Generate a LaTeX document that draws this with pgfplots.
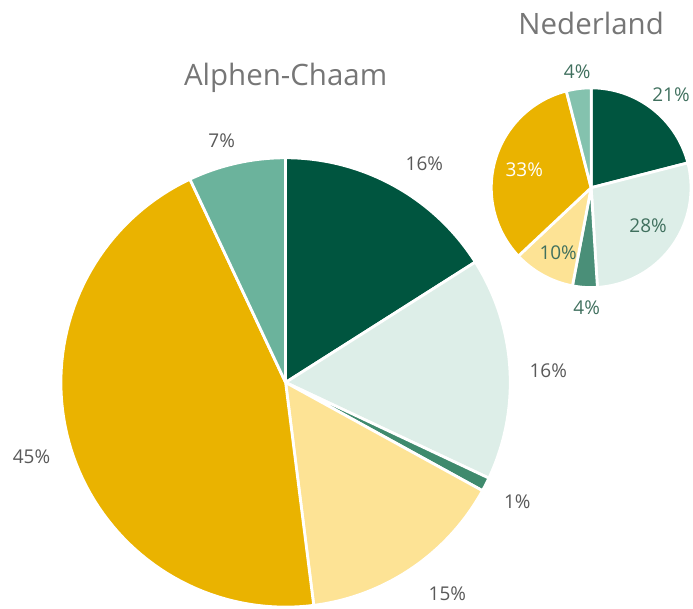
\documentclass[border=0pt]{standalone}
\usepackage{pgfplots}
\pgfplotsset{compat=1.18}
\usepackage{fontspec}
\setmainfont{Open Sans}
\definecolor{cDark}{HTML}{00553F}
\definecolor{cMint}{HTML}{DDEEE8}
\definecolor{cTeal}{HTML}{3F8A6D}
\definecolor{cTealN}{HTML}{4A8F78}
\definecolor{cLYel}{HTML}{FDE395}
\definecolor{cGold}{HTML}{EAB300}
\definecolor{cSage}{HTML}{6BB39C}
\definecolor{cSageN}{HTML}{84C2AE}
\definecolor{cLab}{HTML}{595959}
\definecolor{cLabN}{HTML}{40705E}
\definecolor{cTitle}{HTML}{767676}
\newcommand\lab{\fontsize{19bp}{22bp}\selectfont}
\def\cum{0}
% #1 cx, #2 cy, #3 r, #4 value (percent), #5 fill, #6 label x, #7 label y, #8 label colour
\newcommand\pieslice[8]{%
  \pgfmathsetmacro\sa{\cum*3.6}%
  \pgfmathsetmacro\sb{(\cum+#4)*3.6}%
  \edef\doit{%
    \noexpand\addplot[fill=#5, draw=white, line width=2.8bp, line join=round, domain=\sa:\sb, samples=80, variable=\noexpand\t]
      ({#1+#3*sin(\noexpand\t)},{#2-#3*cos(\noexpand\t)}) -- (axis cs:#1,#2) -- cycle;
    \noexpand\node[text=#8, font=\noexpand\lab, anchor=center] at (axis cs:#6,#7) {#4\noexpand\%};
  }\doit
  \pgfmathsetmacro\tmp{\cum+#4}%
  \xdef\cum{\tmp}%
}
\begin{document}
\begin{tikzpicture}
\begin{axis}[width=693bp, height=609bp, scale only axis,
  xmin=0, xmax=693, ymin=0, ymax=609, y dir=reverse,
  axis line style={draw=none}, xtick=\empty, ytick=\empty, clip=false]
% Alphen-Chaam
\xdef\cum{0}
\pieslice{286}{383}{225}{16}{cDark}{425}{163.5}{cLab}
\pieslice{286}{383}{225}{16}{cMint}{549}{371.5}{cLab}
\pieslice{286}{383}{225}{1}{cTeal}{518}{502}{cLab}
\pieslice{286}{383}{225}{15}{cLYel}{448}{595}{cLab}
\pieslice{286}{383}{225}{45}{cGold}{31.5}{457}{cLab}
\pieslice{286}{383}{225}{7}{cSage}{222}{140.5}{cLab}
% Nederland
\xdef\cum{0}
\pieslice{592}{188}{100}{21}{cDark}{672}{95}{cLabN}
\pieslice{592}{188}{100}{28}{cMint}{649}{226.5}{cLabN}
\pieslice{592}{188}{100}{4}{cTealN}{587.5}{308}{cLabN}
\pieslice{592}{188}{100}{10}{cLYel}{559}{253}{cLabN}
\pieslice{592}{188}{100}{33}{cGold}{525}{170}{white}
\pieslice{592}{188}{100}{4}{cSageN}{578}{72}{cLabN}
\node[anchor=base, text=cTitle, font=\fontsize{29.5bp}{33bp}\selectfont] at (axis cs:286,86) {Alphen-Chaam};
\node[anchor=base, text=cTitle, font=\fontsize{29.5bp}{33bp}\selectfont] at (axis cs:592,35) {Nederland};
\end{axis}
\end{tikzpicture}
\end{document}
